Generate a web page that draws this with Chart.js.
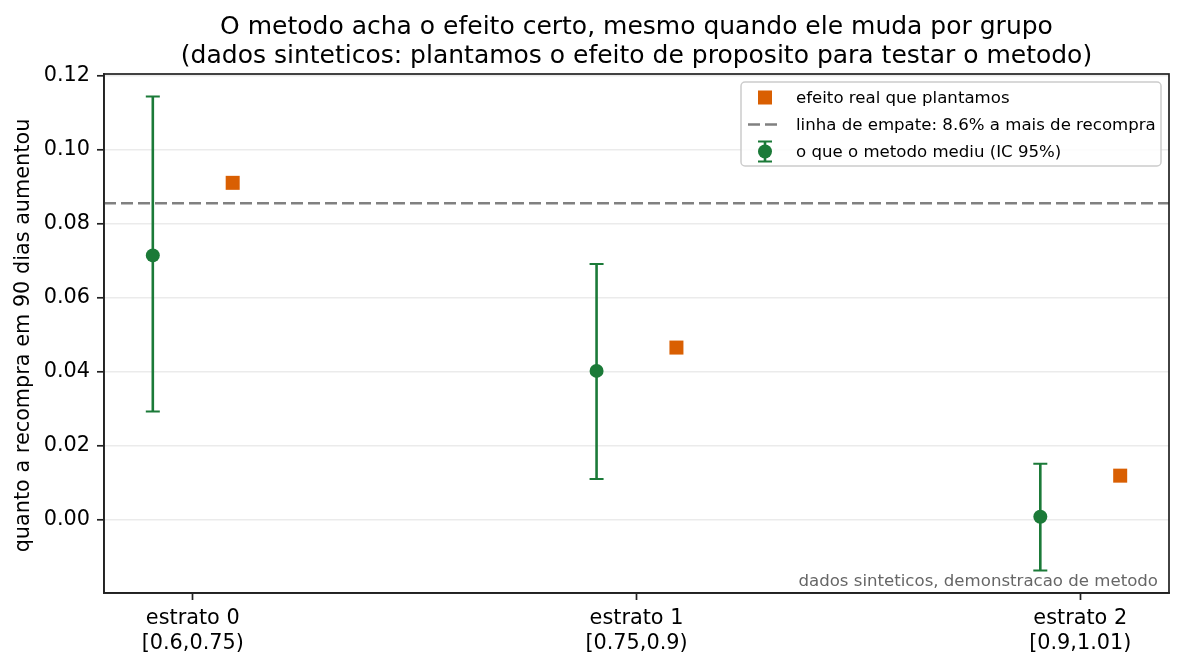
<!DOCTYPE html>
<html>
<head>
<meta charset="utf-8">
<script src="https://cdn.jsdelivr.net/npm/chart.js@4"></script>
<style>
  html, body { margin: 0; padding: 0; background: #fff; }
  #wrap { width: 1184px; height: 667px; }
</style>
</head>
<body>
<div id="wrap"><canvas id="c" width="1184" height="667"></canvas></div>
<script>
// ---- data ----
const categories = ["estrato 0", "estrato 1", "estrato 2"];
const bins = ["[0.6,0.75)", "[0.75,0.9)", "[0.9,1.01)"];
const estimated = [0.0714, 0.0402, 0.0008];
const ciLow = [0.0292, 0.0110, -0.0137];
const ciHigh = [0.1143, 0.0691, 0.0151];
const trueEffect = [0.0910, 0.0465, 0.0119];
const tieLine = 0.0855;
const yTicks = [0.00, 0.02, 0.04, 0.06, 0.08, 0.10, 0.12];

const titleLines = [
  "O metodo acha o efeito certo, mesmo quando ele muda por grupo",
  "(dados sinteticos: plantamos o efeito de proposito para testar o metodo)"
];
const yLabel = "quanto a recompra em 90 dias aumentou";
const caption = "dados sinteticos, demonstracao de metodo";
const legendLabels = [
  "efeito real que plantamos",
  "linha de empate: 8.6% a mais de recompra",
  "o que o metodo mediu (IC 95%)"
];

// ---- styles ----
const GREEN = "#1b7a38";
const ORANGE = "#d95f02";
const DASH = "#808080";
const AXIS = "#222222";
const FONT = "'DejaVu Sans', sans-serif";
const DODGE = 0.09;

const greenPts = estimated.map((v, i) => ({x: i - DODGE, y: v}));
const orangePts = trueEffect.map((v, i) => ({x: i + DODGE, y: v}));

const errorBarPlugin = {
  id: 'errorbars',
  beforeDatasetsDraw(chart) {
    const {ctx, scales: {x, y}} = chart;
    ctx.save();
    ctx.strokeStyle = GREEN;
    estimated.forEach((v, i) => {
      const px = x.getPixelForValue(i - DODGE);
      const pl = y.getPixelForValue(ciLow[i]);
      const ph = y.getPixelForValue(ciHigh[i]);
      ctx.lineWidth = 2.6;
      ctx.beginPath(); ctx.moveTo(px, pl); ctx.lineTo(px, ph); ctx.stroke();
      ctx.lineWidth = 2.0;
      ctx.beginPath();
      ctx.moveTo(px - 7, pl); ctx.lineTo(px + 7, pl);
      ctx.moveTo(px - 7, ph); ctx.lineTo(px + 7, ph);
      ctx.stroke();
    });
    ctx.restore();
  }
};

const decorPlugin = {
  id: 'decor',
  afterDraw(chart) {
    const {ctx, chartArea: a} = chart;
    ctx.save();
    // frame
    ctx.strokeStyle = AXIS;
    ctx.lineWidth = 1.7;
    ctx.strokeRect(a.left, a.top, a.right - a.left, a.bottom - a.top);

    // title
    ctx.fillStyle = "#000";
    ctx.font = "25px " + FONT;
    ctx.textAlign = "center";
    ctx.textBaseline = "alphabetic";
    const cx = (a.left + a.right) / 2;
    ctx.fillText(titleLines[0], cx, 34);
    ctx.fillText(titleLines[1], cx, 62.5);

    // y label
    ctx.save();
    ctx.translate(24, (a.top + a.bottom) / 2 + 2);
    ctx.rotate(-Math.PI / 2);
    ctx.font = "20.8px " + FONT;
    ctx.textAlign = "center";
    ctx.textBaseline = "middle";
    ctx.fillText(yLabel, 0, 0);
    ctx.restore();

    // caption
    ctx.font = "16.6px " + FONT;
    ctx.fillStyle = "#666666";
    ctx.textAlign = "right";
    ctx.textBaseline = "alphabetic";
    ctx.fillText(caption, a.right - 11, a.bottom - 7.5);

    // legend
    const lx = 741, ly = 82, lw = 420, lh = 84;
    ctx.fillStyle = "rgba(255,255,255,0.85)";
    ctx.strokeStyle = "#cccccc";
    ctx.lineWidth = 1.5;
    ctx.beginPath();
    ctx.roundRect(lx, ly, lw, lh, 4);
    ctx.fill(); ctx.stroke();
    const rows = [97.5, 124.5, 151.5];
    const hx = 765;
    // square
    ctx.fillStyle = ORANGE;
    ctx.fillRect(hx - 7, rows[0] - 7, 14, 14);
    // dashed
    ctx.strokeStyle = DASH;
    ctx.lineWidth = 2.5;
    ctx.setLineDash([12, 5]);
    ctx.beginPath(); ctx.moveTo(748, rows[1]); ctx.lineTo(777, rows[1]); ctx.stroke();
    ctx.setLineDash([]);
    // errorbar
    ctx.strokeStyle = GREEN;
    ctx.lineWidth = 2.6;
    ctx.beginPath(); ctx.moveTo(hx, rows[2] - 10); ctx.lineTo(hx, rows[2] + 10); ctx.stroke();
    ctx.lineWidth = 2.0;
    ctx.beginPath();
    ctx.moveTo(hx - 7, rows[2] - 10); ctx.lineTo(hx + 7, rows[2] - 10);
    ctx.moveTo(hx - 7, rows[2] + 10); ctx.lineTo(hx + 7, rows[2] + 10);
    ctx.stroke();
    ctx.fillStyle = GREEN;
    ctx.beginPath(); ctx.arc(hx, rows[2], 7, 0, Math.PI * 2); ctx.fill();
    // texts
    ctx.fillStyle = "#000";
    ctx.font = "16.6px " + FONT;
    ctx.textAlign = "left";
    ctx.textBaseline = "middle";
    legendLabels.forEach((t, i) => ctx.fillText(t, 796, rows[i] + 1));
    ctx.restore();
  }
};

new Chart(document.getElementById('c'), {
  type: 'scatter',
  data: {
    datasets: [
      {
        type: 'line',
        data: [{x: -0.2, y: tieLine}, {x: 2.2, y: tieLine}],
        borderColor: DASH,
        borderWidth: 2.5,
        borderDash: [12, 5],
        pointRadius: 0,
        fill: false,
        order: 3
      },
      {
        data: orangePts,
        pointStyle: 'rect',
        pointRadius: 9.9,
        pointHoverRadius: 9.9,
        backgroundColor: ORANGE,
        borderWidth: 0,
        order: 2
      },
      {
        data: greenPts,
        pointStyle: 'circle',
        pointRadius: 7,
        pointHoverRadius: 7,
        backgroundColor: GREEN,
        borderWidth: 0,
        order: 1
      }
    ]
  },
  options: {
    responsive: false,
    animation: false,
    events: [],
    layout: { padding: { top: 74, right: 15, left: 0, bottom: 0 } },
    plugins: { legend: { display: false }, tooltip: { enabled: false }, title: { display: false } },
    scales: {
      x: {
        type: 'linear',
        min: -0.2,
        max: 2.2,
        afterBuildTicks: (s) => { s.ticks = categories.map((c, i) => ({value: i})); },
        afterFit: (s) => { s.height = 74; },
        ticks: {
          callback: (v) => [categories[v], bins[v]],
          font: { family: FONT, size: 20.8, lineHeight: 1.2 },
          color: "#000",
          padding: 6,
          maxRotation: 0,
          autoSkip: false
        },
        grid: { drawOnChartArea: false, tickLength: 7, tickWidth: 1.7, tickColor: AXIS },
        border: { color: AXIS, width: 1.7 }
      },
      y: {
        min: -0.0198,
        max: 0.1204,
        afterBuildTicks: (s) => { s.ticks = yTicks.map(v => ({value: v})); },
        afterFit: (s) => { s.width = 104; },
        ticks: {
          callback: (v) => v.toFixed(2),
          font: { family: FONT, size: 20.8 },
          color: "#000",
          padding: 7
        },
        grid: { color: "#ebebeb", lineWidth: 1.6, tickLength: 7, tickWidth: 1.7, tickColor: AXIS },
        border: { color: AXIS, width: 1.7 }
      }
    }
  },
  plugins: [errorBarPlugin, decorPlugin]
});
</script>
</body>
</html>
